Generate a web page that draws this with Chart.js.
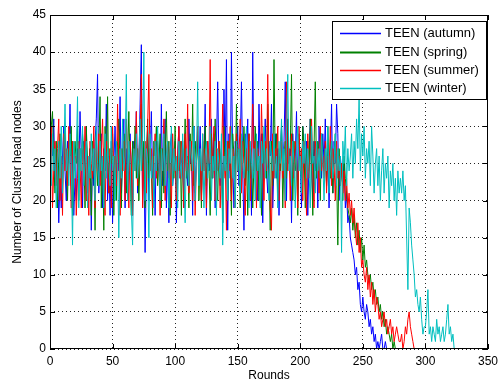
<!DOCTYPE html>
<html>
<head>
<meta charset="utf-8">
<script src="https://cdn.jsdelivr.net/npm/chart.js@4/dist/chart.umd.min.js"></script>
<style>
  html, body { margin: 0; padding: 0; background: #fff; }
  #wrap { width: 503px; height: 382px; }
</style>
</head>
<body>
<div id="wrap"><canvas id="chart" width="503" height="382"></canvas></div>
<script>
// Cluster head count per round, one entry per round starting at round 0
const autumn = [
  24,29,26,31,22,27,25,17,23,19,26,30,24,20,28,25,33,22,28,18,
  23,20,27,24,32,26,19,28,24,30,21,25,27,16,26,22,28,31,37,21,
  25,29,19,27,24,33,20,26,18,28,17,25,30,22,27,24,34,21,26,31,
  19,27,20,25,29,24,18,28,26,32,21,25,33,41,19,27,13,24,30,20,
  26,32,23,25,18,28,24,27,20,33,22,26,31,19,25,17,27,29,22,24,
  28,17,26,30,23,25,28,19,29,24,22,31,25,27,18,30,21,26,28,24,
  30,20,27,25,33,18,28,24,26,31,23,29,19,27,36,25,22,28,17,35,
  26,39,16,29,23,40,25,19,28,26,30,22,27,36,24,16,29,25,31,20,
  27,18,40,24,28,26,20,33,25,29,17,27,31,24,21,28,26,33,19,25,
  29,23,27,18,26,30,24,28,36,20,31,25,27,17,29,24,26,32,20,28,
  25,19,30,27,24,28,18,26,31,25,20,28,24,27,19,30,26,23,29,25,
  31,22,27,19,26,33,21,28,25,33,29,20,26,24,22,25,19,21,17,18,
  15,14,13,12,10,11,8,9,6,5,7,5,4,6,5,3,4,2,3,1,
  2,0,1,0,1,2,0,0,1,0,0
];
const spring = [
  27,30,32,25,21,28,19,26,29,24,22,27,30,25,20,28,26,30,18,24,
  28,25,30,20,27,24,29,26,19,30,25,23,27,18,28,26,16,29,22,27,
  34,19,26,16,30,24,34,21,27,25,29,18,26,20,28,31,24,19,27,25,
  29,21,26,32,24,18,28,25,30,23,27,20,26,33,24,28,19,25,31,23,
  27,24,18,28,26,30,22,25,29,19,27,21,26,32,24,28,18,25,27,23,
  30,20,26,24,28,18,27,25,31,23,26,19,29,24,33,22,28,25,30,20,
  26,19,28,24,30,22,27,25,18,29,23,26,31,24,20,28,25,27,17,30,
  24,27,20,28,25,18,29,26,23,33,24,27,19,28,25,30,22,26,18,29,
  23,27,19,25,30,24,28,20,26,18,29,25,27,23,33,24,16,28,22,39,
  25,29,20,27,24,30,19,26,28,23,31,25,27,37,20,28,24,26,18,29,
  25,23,30,27,19,26,28,24,31,25,18,27,36,23,28,26,20,29,25,24,
  27,22,30,25,23,28,21,26,29,24,14,27,22,25,20,26,23,21,19,18,
  17,19,16,18,15,17,14,16,13,15,12,14,11,12,10,9,10,8,9,7,
  8,6,7,5,6,4,5,3,4,2,3,2,1,2,0,1,0,0
];
const summer = [
  25,30,19,24,28,22,27,31,20,26,18,29,24,27,22,30,25,19,28,24,
  26,18,23,28,25,19,27,24,30,20,26,18,28,25,23,30,19,27,24,29,
  22,26,31,24,18,28,25,21,27,19,30,24,26,22,33,25,18,27,24,28,
  20,31,26,19,28,25,18,27,24,32,22,26,29,37,19,25,28,21,30,37,
  24,27,19,26,29,23,28,25,18,27,24,31,20,26,28,23,25,19,29,24,
  27,20,26,30,23,28,25,19,29,24,33,21,26,28,20,27,18,25,30,24,
  26,20,29,24,27,19,28,25,39,23,26,30,20,27,24,28,19,25,33,23,
  26,16,28,24,30,20,27,25,19,29,24,26,31,21,28,25,18,27,24,29,
  20,26,33,24,28,19,27,25,23,33,26,20,28,24,37,25,19,16,29,23,
  27,24,30,20,26,28,23,25,19,36,24,27,20,29,25,23,28,26,19,30,
  24,27,20,28,25,18,29,23,26,31,24,19,28,25,27,21,30,24,26,23,
  28,21,26,24,30,22,27,25,20,28,23,26,22,25,21,24,20,23,19,21,
  18,20,17,19,16,14,17,13,15,11,12,10,9,11,8,10,7,9,6,8,
  5,7,6,4,5,3,4,5,3,4,2,3,4,2,3,1,2,3,2,1,
  1,2,0,1,3,2,4,5,3,2,1,0
];
const winter = [
  26,22,29,24,27,19,25,28,23,30,21,26,33,24,27,22,29,25,14,28,
  23,26,34,19,27,24,30,22,25,28,19,26,23,29,24,27,20,30,25,22,
  28,24,26,19,29,23,27,25,22,30,24,26,20,28,25,15,27,23,31,24,
  26,37,20,28,25,19,14,27,24,29,23,26,31,24,28,40,20,27,25,15,
  29,23,26,19,28,24,30,25,20,27,24,29,22,26,28,19,25,30,22,27,
  24,26,19,28,25,23,29,24,17,27,25,22,28,26,24,30,20,25,36,22,
  27,24,29,19,26,28,23,25,30,20,26,24,28,18,27,25,23,29,14,26,
  24,28,20,27,25,30,23,26,19,28,24,27,21,29,25,23,26,30,24,19,
  28,25,23,27,20,29,24,26,19,28,25,30,23,27,24,20,28,26,24,29,
  23,26,19,28,25,31,24,27,20,29,37,24,26,22,28,25,19,27,30,24,
  26,21,28,25,29,23,27,24,19,30,25,26,21,28,24,27,23,29,25,20,
  27,24,30,21,26,28,23,25,29,22,27,24,26,13,28,25,30,22,27,24,
  26,29,23,28,25,31,27,34,24,29,26,30,23,27,25,28,22,30,26,21,
  25,27,22,26,20,24,27,21,25,23,26,19,24,22,25,20,23,18,24,21,
  23,21,24,20,22,15,8,19,17,14,12,10,7,8,6,5,7,4,2,3,
  3,5,8,2,3,1,3,2,1,4,2,3,1,2,3,1,2,4,6,2,
  3,1,2,0
];

const seriesNames = ['TEEN (autumn)', 'TEEN (spring)', 'TEEN (summer)', 'TEEN (winter)'];
const seriesColors = ['#0000ff', '#008000', '#ff0000', '#00bfbf'];
const xTicks = [0, 50, 100, 150, 200, 250, 300, 350];
const yTicks = [0, 5, 10, 15, 20, 25, 30, 35, 40, 45];

const FONT = '"Liberation Sans", Arial, Helvetica, sans-serif';

const toPoints = arr => arr.map((v, i) => ({ x: i, y: v }));
const allSeries = [autumn, spring, summer, winter];

// Box around the axes with short inward tick marks on all four sides
const framePlugin = {
  id: 'frame',
  afterDatasetsDraw(chart) {
    const { ctx, chartArea } = chart;
    const xs = chart.scales.x, ys = chart.scales.y;
    const L = Math.round(chartArea.left), R = Math.round(chartArea.right);
    const T = Math.round(chartArea.top), B = Math.round(chartArea.bottom);
    ctx.save();
    ctx.strokeStyle = '#000';
    ctx.lineWidth = 1;
    ctx.strokeRect(L + 0.5, T + 0.5, R - L - 1, B - T - 1);
    const len = 5;
    ctx.beginPath();
    xTicks.forEach(v => {
      const px = Math.round(xs.getPixelForValue(v)) + 0.5;
      ctx.moveTo(px, B); ctx.lineTo(px, B - len);
      ctx.moveTo(px, T); ctx.lineTo(px, T + len);
    });
    yTicks.forEach(v => {
      const py = Math.round(ys.getPixelForValue(v)) + 0.5;
      ctx.moveTo(L, py); ctx.lineTo(L + len, py);
      ctx.moveTo(R, py); ctx.lineTo(R - len, py);
    });
    ctx.stroke();
    ctx.restore();
  }
};

// Boxed legend in the upper right corner of the plot
const legendBoxPlugin = {
  id: 'legendBox',
  afterDraw(chart) {
    const { ctx } = chart;
    const bx = 332, by = 21, bw = 154, bh = 78;
    ctx.save();
    ctx.fillStyle = '#fff';
    ctx.fillRect(bx, by, bw, bh);
    ctx.strokeStyle = '#000';
    ctx.lineWidth = 1;
    ctx.strokeRect(bx + 0.5, by + 0.5, bw, bh);
    ctx.font = '13px ' + FONT;
    ctx.textBaseline = 'middle';
    ctx.textAlign = 'left';
    const rowY = [33, 51.5, 69.5, 88];
    chart.data.datasets.forEach((ds, i) => {
      const y = rowY[i];
      ctx.strokeStyle = ds.borderColor;
      ctx.lineWidth = i === 1 ? 2 : 1.4;
      ctx.beginPath();
      ctx.moveTo(340, Math.round(y) + 0.5);
      ctx.lineTo(381, Math.round(y) + 0.5);
      ctx.stroke();
      ctx.fillStyle = '#000';
      ctx.fillText(ds.label, 385, y + 0.5);
    });
    ctx.restore();
  }
};

new Chart(document.getElementById('chart'), {
  type: 'line',
  data: {
    datasets: allSeries.map((arr, i) => ({
      label: seriesNames[i],
      data: toPoints(arr),
      borderColor: seriesColors[i],
      backgroundColor: seriesColors[i],
      borderWidth: 1,
      pointRadius: 0,
      tension: 0,
      fill: false,
      order: 3 - i
    }))
  },
  options: {
    responsive: false,
    animation: false,
    devicePixelRatio: 1,
    layout: { padding: { left: 0, right: 11, top: 15, bottom: 0 } },
    plugins: {
      legend: { display: false },
      tooltip: { enabled: false }
    },
    scales: {
      x: {
        type: 'linear',
        min: 0,
        max: 350,
        afterBuildTicks: s => { s.ticks = xTicks.map(v => ({ value: v })); },
        afterFit: s => { s.height = 33; },
        grid: { display: true, color: '#222', lineWidth: 1, drawTicks: false },
        border: { display: false, dash: [1, 3] },
        ticks: { color: '#000', padding: 5, maxRotation: 0, font: { family: FONT, size: 12 } },
        title: {
          display: true, text: 'Rounds', color: '#000',
          font: { family: FONT, size: 12, lineHeight: 1 },
          padding: { top: 0, bottom: 0 }
        }
      },
      y: {
        type: 'linear',
        min: 0,
        max: 45,
        afterBuildTicks: s => { s.ticks = yTicks.map(v => ({ value: v })); },
        afterFit: s => { s.width = 50; },
        grid: { display: true, color: '#222', lineWidth: 1, drawTicks: false },
        border: { display: false, dash: [1, 3] },
        ticks: { color: '#000', padding: 4, font: { family: FONT, size: 12 } },
        title: {
          display: true, text: 'Number of Cluster head nodes', color: '#000',
          font: { family: FONT, size: 12, lineHeight: 1.2 },
          padding: { top: 10, bottom: 0 }
        }
      }
    }
  },
  plugins: [framePlugin, legendBoxPlugin]
});
</script>
</body>
</html>
